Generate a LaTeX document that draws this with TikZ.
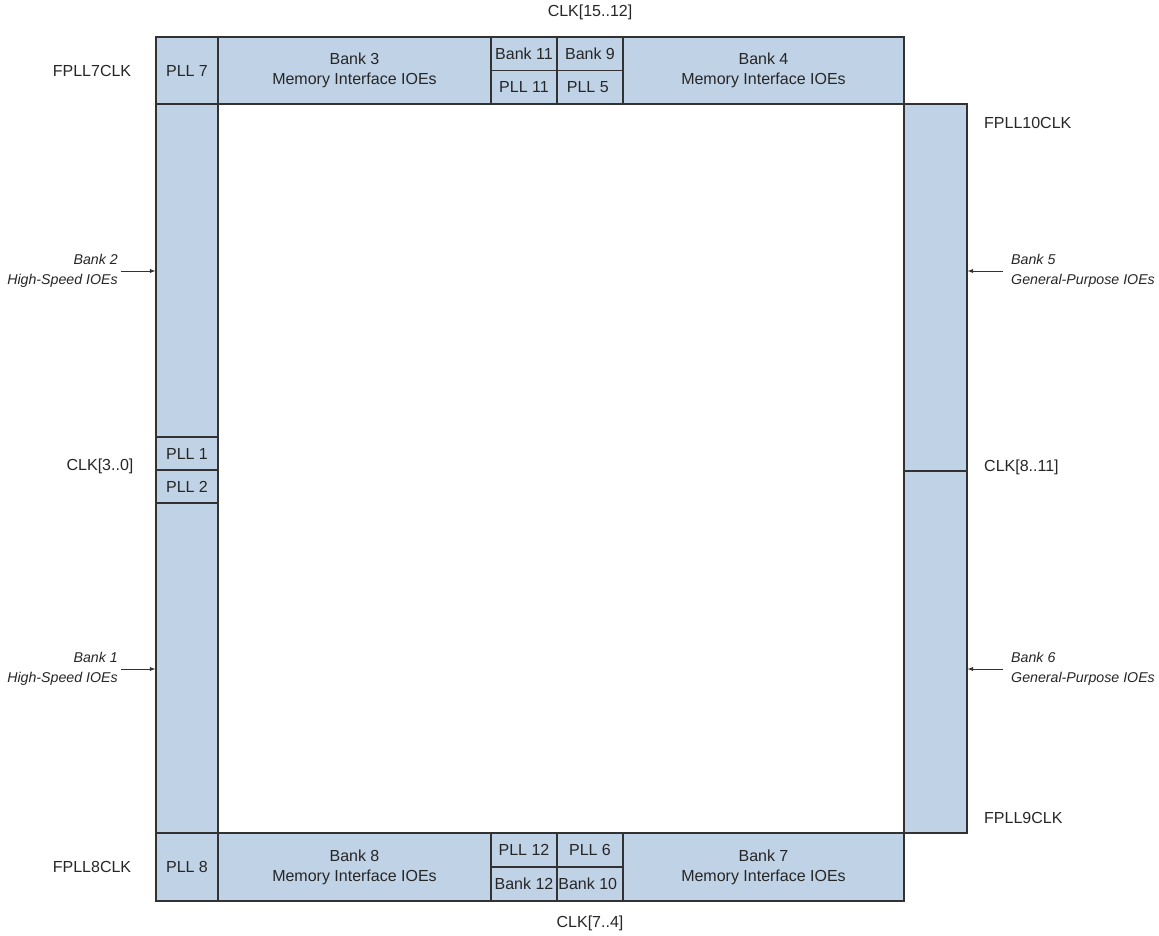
\documentclass[tikz,border=0pt]{standalone}
\usepackage{fontspec}
\setmainfont{Liberation Sans}
\definecolor{bankblue}{RGB}{192,210,230}
\definecolor{edgegray}{RGB}{50,50,50}
\begin{document}
\begin{tikzpicture}[
    x=1pt,
    y=-1pt,
    >=latex,
    cell/.style={
        draw=edgegray,
        fill=bankblue,
        line width=1.1pt,
        inner sep=0pt,
        align=center,
        text=black!85,
        font=\fontsize{16}{20}\selectfont
    },
    side/.style={
        inner sep=0pt,
        text=black!85,
        font=\fontsize{16}{20}\selectfont
    },
    ioe/.style={
        inner sep=3pt,
        text=black!85,
        font=\fontsize{14.2}{19.5}\selectfont\itshape
    },
    arrow/.style={
        ->,
        line width=0.9pt,
        draw=edgegray
    }
]
    \useasboundingbox (0,0) rectangle (1159,936);

    % Horní řada
    \node[cell, minimum width=62, minimum height=67] (pll7) at (187,70.5) {PLL 7};
    \node[cell, minimum width=273, minimum height=67] (bank3) at (354.5,70.5) {Bank 3\\Memory Interface IOEs};
    \node[cell, minimum width=281, minimum height=67] (bank4) at (763.5,70.5) {Bank 4\\Memory Interface IOEs};
    \foreach \name/\x/\y/\txt in {
        bank11/524/53.75/Bank 11, pll11/524/87.25/PLL 11,
        bank9/590/53.75/Bank 9, pll5/590/87.25/PLL 5
    }{
        \node[cell, minimum width=66, minimum height=33.5] (\name) at (\x,\y) {\txt};
    }

    % Levý sloupec
    \node[cell, minimum width=62, minimum height=729] (leftcol) at (187,468.5) {};
    \node[cell, minimum width=62, minimum height=33] (pll1) at (187,453.5) {PLL 1};
    \node[cell, minimum width=62, minimum height=33] (pll2) at (187,486.5) {PLL 2};

    % Pravý sloupec
    \node[cell, minimum width=63, minimum height=367] (rc5) at (935.5,287.5) {};
    \node[cell, minimum width=63, minimum height=362] (rc6) at (935.5,652) {};

    % Dolní řada
    \node[cell, minimum width=62, minimum height=68] (pll8) at (187,867) {PLL 8};
    \node[cell, minimum width=273, minimum height=68] (bank8) at (354.5,867) {Bank 8\\Memory Interface IOEs};
    \node[cell, minimum width=281, minimum height=68] (bank7) at (763.5,867) {Bank 7\\Memory Interface IOEs};
    \foreach \name/\x/\y/\txt in {
        pll12/524/850/PLL 12, bank12/524/884/Bank 12,
        pll6/590/850/PLL 6, bank10/590/884/Bank 10
    }{
        \node[cell, minimum width=66, minimum height=34] (\name) at (\x,\y) {\txt};
    }

    % Hodinové vstupy
    \node[side] (clktop) at (590,12) {CLK[15..12]};
    \node[side] (clkbot) at (590,923) {CLK[7..4]};
    \node[side] (clkleft) at (100,466) {CLK[3..0]};
    \node[side, anchor=west] (clkright) at (984,467) {CLK[8..11]};
    \node[side] (fpll7) at (92,71) {FPLL7CLK};
    \node[side] (fpll8) at (92,867) {FPLL8CLK};
    \node[side, anchor=west] (fpll10) at (984,123) {FPLL10CLK};
    \node[side, anchor=west] (fpll9) at (984,818) {FPLL9CLK};

    % Popisky bank a šipky
    \node[ioe, align=right, anchor=east] (bank2) at (121,271) {Bank 2\\High-Speed IOEs};
    \node[ioe, align=right, anchor=east] (bank1) at (121,669) {Bank 1\\High-Speed IOEs};
    \node[ioe, inner xsep=8pt, align=left, anchor=west] (bank5) at (1003,271) {Bank 5\\General-Purpose IOEs};
    \node[ioe, inner xsep=8pt, align=left, anchor=west] (bank6) at (1003,669) {Bank 6\\General-Purpose IOEs};

    \draw[arrow] (bank2.east) -- (bank2.east -| leftcol.west);
    \draw[arrow] (bank1.east) -- (bank1.east -| leftcol.west);
    \draw[arrow] (bank5.west) -- (bank5.west -| rc5.east);
    \draw[arrow] (bank6.west) -- (bank6.west -| rc6.east);

\end{tikzpicture}
\end{document}
